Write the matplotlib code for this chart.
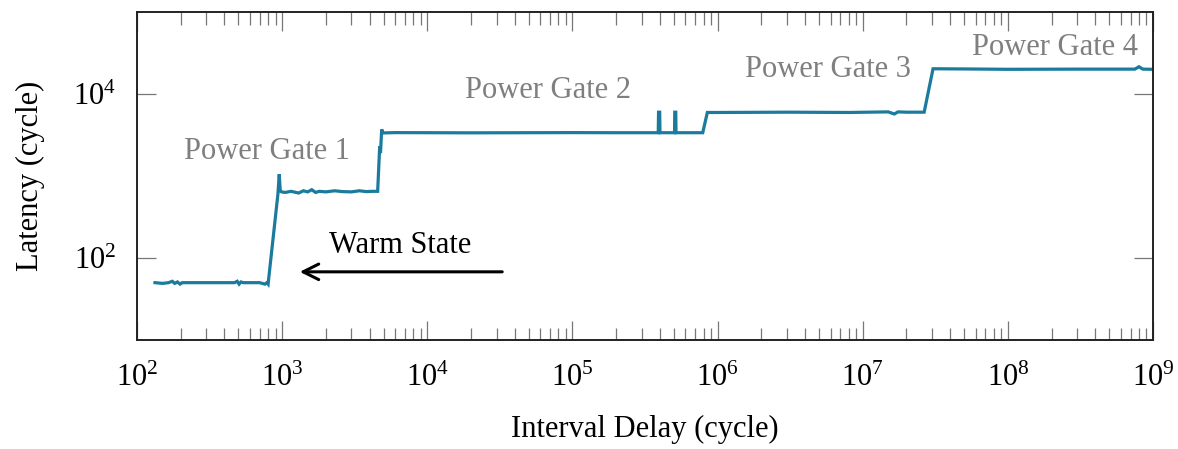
import matplotlib
matplotlib.use("Agg")
import matplotlib.pyplot as plt
from matplotlib.ticker import LogLocator, FixedLocator, NullFormatter, NullLocator

plt.rcParams["font.family"] = ["Liberation Serif", "DejaVu Serif"]
plt.rcParams["mathtext.fontset"] = "custom"
plt.rcParams["mathtext.rm"] = "Liberation Serif"
plt.rcParams["mathtext.it"] = "Liberation Serif:italic"

LINE_COLOR = "#1a7b9c"
GATE_COLOR = "#7f7f7f"
FS = 22

# measured latency vs. interval delay, one list per plateau
warm_x = [133, 150, 165, 175, 182, 190, 198, 205, 220, 260, 320, 400,
          470, 490, 505, 520, 540, 600, 700, 760, 785]
warm_y = [50, 49, 50, 52, 49, 51, 48, 50, 50, 50, 50, 50,
          50, 52, 48, 51, 50, 50, 50, 48, 50]

gate1_x = [800, 935, 955, 970, 990, 1050, 1150, 1300, 1400, 1500, 1600,
           1700, 1800, 2000, 2300, 2600, 3000, 3400, 3800, 4200, 4550]
gate1_y = [48, 600, 1050, 660, 640, 630, 650, 620, 660, 640, 680,
           630, 650, 640, 660, 645, 640, 660, 645, 650, 650]

gate2_x = [4700, 4760, 4850, 4950, 6000, 2.0e4, 1.0e5, 2.0e5, 3.90e5,
           3.92e5, 3.99e5, 4.01e5, 5.05e5, 5.07e5, 5.15e5, 5.17e5, 7.9e5]
gate2_y = [2300, 1900, 3700, 3350, 3380, 3360, 3380, 3370, 3370,
           6000, 6000, 3370, 3370, 6000, 6000, 3370, 3370]

gate3_x = [8.5e5, 1.0e6, 3.0e6, 8.0e6, 1.5e7, 1.65e7, 1.75e7, 2.0e7, 2.65e7]
gate3_y = [5950, 5950, 6000, 5950, 6050, 5700, 6050, 6000, 6000]

gate4_x = [3.05e7, 5.0e7, 1.0e8, 3.0e8, 7.5e8, 8.0e8, 8.5e8, 1.0e9]
gate4_y = [20300, 20200, 20000, 20100, 20100, 21500, 20100, 20000]

xs = warm_x + gate1_x + gate2_x + gate3_x + gate4_x
ys = warm_y + gate1_y + gate2_y + gate3_y + gate4_y

y_ticks = [1e2, 1e4]

fig = plt.figure(figsize=(11.78, 4.49), dpi=100)
ax = fig.add_axes([0.1163, 0.2428, 0.8625, 0.7305])

ax.plot(xs, ys, color=LINE_COLOR, lw=2.3, solid_joinstyle="miter")

ax.set_xscale("log")
ax.set_yscale("log")
ax.set_xlim(1e2, 1e9)
ax.set_ylim(10, 1e5)

ax.xaxis.set_major_locator(LogLocator(base=10, numticks=20))
ax.xaxis.set_minor_locator(LogLocator(base=10, subs=range(2, 10), numticks=100))
ax.xaxis.set_minor_formatter(NullFormatter())
ax.yaxis.set_major_locator(FixedLocator(y_ticks))
ax.yaxis.set_minor_locator(NullLocator())

ax.tick_params(which="both", direction="in", top=True, right=True,
               color="#777777", width=0.9, labelsize=FS)
ax.tick_params(which="major", length=14)
ax.tick_params(which="minor", length=9)
ax.tick_params(axis="x", which="major", pad=17)
ax.tick_params(axis="y", which="major", pad=15)

for s in ax.spines.values():
    s.set_linewidth(1.4)
    s.set_color("#222222")

ax.set_xlabel("Interval Delay (cycle)", fontsize=FS, labelpad=16)
ax.set_ylabel("Latency (cycle)", fontsize=FS, labelpad=20)

gate_kw = dict(color=GATE_COLOR, fontsize=FS, ha="center", va="center")
ax.text(787, 2000, "Power Gate 1", **gate_kw)
ax.text(6.79e4, 11170, "Power Gate 2", **gate_kw)
ax.text(5.77e6, 20000, "Power Gate 3", **gate_kw)
ax.text(2.11e8, 36800, "Power Gate 4", **gate_kw)

ax.text(6490, 143, "Warm State", fontsize=FS, ha="center", va="center")
ax.annotate("", xy=(1265, 67.8), xytext=(34300, 67.8),
            arrowprops=dict(arrowstyle="->", color="black", lw=2.2,
                            mutation_scale=28))

fig.savefig("out.png", dpi=100)
